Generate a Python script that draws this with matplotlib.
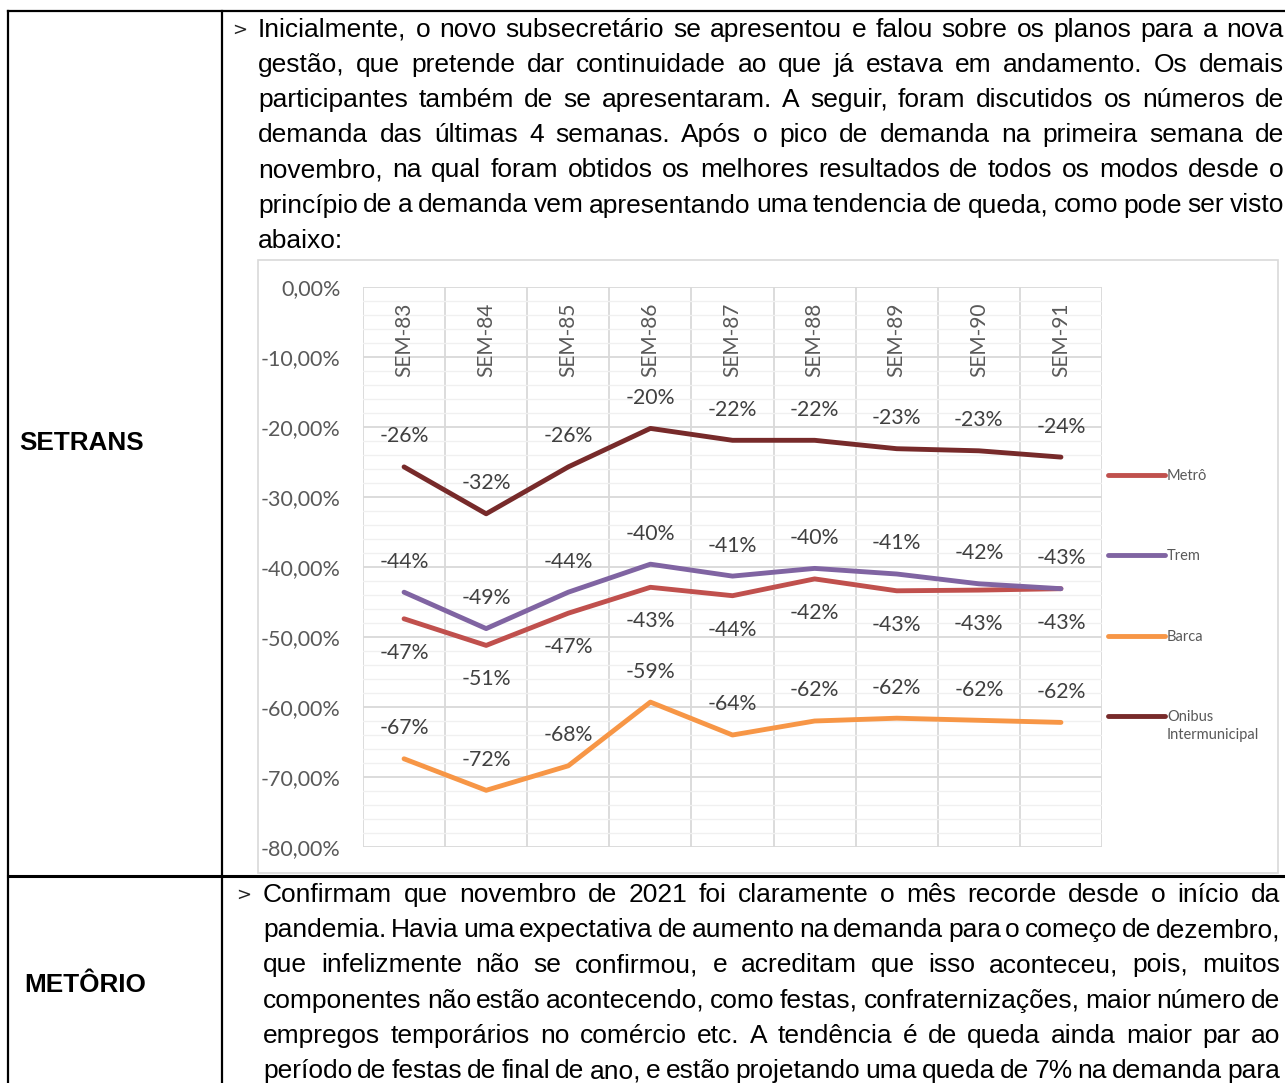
import numpy as np
import matplotlib
matplotlib.use("Agg")
import matplotlib.pyplot as plt
from matplotlib.patches import Rectangle
from matplotlib.ticker import MultipleLocator, FuncFormatter

# ---- chart data (percent change) ----
semanas = ["SEM-83", "SEM-84", "SEM-85", "SEM-86", "SEM-87", "SEM-88", "SEM-89", "SEM-90", "SEM-91"]
metro = [-47.4, -51.2, -46.6, -42.9, -44.1, -41.7, -43.4, -43.3, -43.1]
trem = [-43.6, -48.8, -43.6, -39.6, -41.3, -40.2, -41.0, -42.4, -43.1]
barca = [-67.4, -71.9, -68.4, -59.3, -64.0, -62.0, -61.6, -61.9, -62.2]
onibus = [-25.7, -32.4, -25.7, -20.2, -21.9, -21.9, -23.1, -23.4, -24.3]

series_names = ["Metrô", "Trem", "Barca", "Onibus"]
series_colors = ["#C0504D", "#8064A2", "#F79646", "#772A2A"]
label_side = [-1, 1, 1, 1]   # metro labels below, others above

# ---- document text ----
row_labels = ["SETRANS", "METÔRIO"]
par1 = [
    "Inicialmente, o novo subsecretário se apresentou e falou sobre os planos para a nova",
    "gestão, que pretende dar continuidade ao que já estava em andamento. Os demais",
    "participantes também de se apresentaram. A seguir, foram discutidos os números de",
    "demanda das últimas 4 semanas. Após o pico de demanda na primeira semana de",
    "novembro, na qual foram obtidos os melhores resultados de todos os modos desde o",
    "princípio de a demanda vem apresentando uma tendencia de queda, como pode ser visto",
    "abaixo:",
]
par2 = [
    "Confirmam que novembro de 2021 foi claramente o mês recorde desde o início da",
    "pandemia. Havia uma expectativa de aumento na demanda para o começo de dezembro,",
    "que infelizmente não se confirmou, e acreditam que isso aconteceu, pois, muitos",
    "componentes não estão acontecendo, como festas, confraternizações, maior número de",
    "empregos temporários no comércio etc. A tendência é de queda ainda maior par ao",
    "período de festas de final de ano, e estão projetando uma queda de 7% na demanda para",
]

W, H = 1285, 1083
fig = plt.figure(figsize=(W / 100, H / 100), dpi=100)
fig.patch.set_facecolor("white")

# background axes in pixel units
bg = fig.add_axes([0, 0, 1, 1])
bg.set_xlim(0, W)
bg.set_ylim(H, 0)
bg.axis("off")

# table lines
bg.plot([8, W], [11, 11], color="black", lw=1.6)
bg.plot([8, 8], [11, H], color="black", lw=1.6)
bg.plot([222, 222], [11, H], color="black", lw=1.6)
bg.plot([8, W], [876, 876], color="black", lw=2.2)

# chart frame
bg.add_patch(Rectangle((258, 260), 1020, 613, fill=False, edgecolor="#D9D9D9", lw=1.2))

bg.text(19, 443, row_labels[0], fontsize=18.8, fontweight="bold", family="Liberation Sans", va="center")
bg.text(24, 985, row_labels[1], fontsize=18.8, fontweight="bold", family="Liberation Sans", va="center")

renderer = fig.canvas.get_renderer()
FONT = "Liberation Sans"


def text_width(s, size):
    t = bg.text(0, 0, s, fontsize=size, family=FONT)
    w = t.get_window_extent(renderer).width
    t.remove()
    return w


def fit_size(lines, x0, x1, size=20.0, min_gap=0.19):
    for ln in lines:
        words = ln.split(" ")
        need = sum(text_width(w, size) for w in words) + (len(words) - 1) * min_gap * size * 100 / 72
        if need > (x1 - x0):
            size = size * (x1 - x0) / need
    return size


def paragraph(lines, x0, x1, y0, dy, size, justify_last=False):
    for k, ln in enumerate(lines):
        y = y0 + k * dy
        last = (k == len(lines) - 1) and not justify_last
        if last:
            bg.text(x0, y, ln, fontsize=size, family=FONT, va="center", color="black")
            continue
        words = ln.split(" ")
        widths = [text_width(w, size) for w in words]
        gap = (x1 - x0 - sum(widths)) / (len(words) - 1)
        x = x0
        for w, wd in zip(words, widths):
            bg.text(x, y, w, fontsize=size, family=FONT, va="center", color="black")
            x += wd + gap


s1 = fit_size(par1[:-1], 258, 1284)
s2 = fit_size(par2, 263, 1280)
size = min(s1, s2)
bg.text(232, 30, ">", fontsize=13, family="DejaVu Sans", va="center", color="#222222")
paragraph(par1, 258, 1284, 30, 35.1, size)
bg.text(236, 895, ">", fontsize=13, family="DejaVu Sans", va="center", color="#222222")
paragraph(par2, 263, 1280, 895, 35.2, size, justify_last=True)

# ---- chart ----
ax = fig.add_axes([363 / W, 1 - 847 / H, 739 / W, 560 / H])
x = np.arange(len(semanas))
ax.set_xlim(-0.5, len(semanas) - 0.5)
ax.set_ylim(-80, 0)
ax.yaxis.set_major_locator(MultipleLocator(10))
ax.yaxis.set_minor_locator(MultipleLocator(2))
ax.yaxis.set_major_formatter(FuncFormatter(lambda v, p: ("%.2f%%" % v).replace(".", ",")))
ax.grid(which="minor", axis="y", color="#F0F0F0", lw=1.0)
ax.grid(which="major", axis="y", color="#D9D9D9", lw=1.3)
ax.set_xticks(np.arange(-0.5, len(semanas)), minor=True)
ax.grid(which="minor", axis="x", color="#D9D9D9", lw=1.3)
ax.set_xticks([])
ax.set_axisbelow(True)
for sp in ax.spines.values():
    sp.set_visible(False)
ax.tick_params(axis="y", which="both", length=0, labelsize=15.5, labelcolor="#595959", pad=16)
ax.tick_params(axis="x", which="both", length=0)
for lab in ax.get_yticklabels():
    lab.set_family("Lato")

for i, s in enumerate(semanas):
    ax.text(i, -2.2, s, rotation=90, ha="center", va="top", fontsize=15, color="#595959", family="Lato")

all_series = [metro, trem, barca, onibus]
for vals, name, col, side in zip(all_series, series_names, series_colors, label_side):
    ax.plot(x, vals, color=col, lw=3.5, solid_capstyle="round", solid_joinstyle="round", label=name)
    for xi, v in zip(x, vals):
        off = 22 if side > 0 else -24.5
        ax.annotate("%d%%" % round(v), (xi, v), xytext=(0, off), textcoords="offset points",
                    ha="center", va="center", fontsize=15.3, color="#404040", family="Lato")

leg = ax.legend(loc="upper left", bbox_to_anchor=(1.008, 0.675), frameon=False, fontsize=10.5,
                handlelength=3.9, handletextpad=0.15, labelspacing=4.55, borderaxespad=0, borderpad=0)
for t in leg.get_texts():
    t.set_color("#595959")
    t.set_family("Lato")
ax.annotate("Intermunicipal", xy=(0, 0), xycoords=leg.get_texts()[3], xytext=(0, -3),
            textcoords="offset points", ha="left", va="top", fontsize=10.5, color="#595959",
            family="Lato", zorder=10, annotation_clip=False)

fig.savefig("out.png", dpi=100, facecolor="white")
